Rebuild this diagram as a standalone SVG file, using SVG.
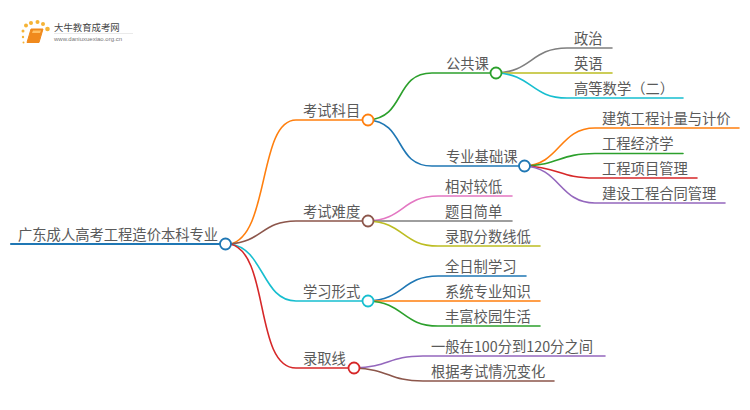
<svg xmlns="http://www.w3.org/2000/svg" width="750" height="410" viewBox="0 0 750 410">
<style>
text{font-family:"Noto Sans CJK SC","Liberation Sans",sans-serif;font-size:14.300px;fill:#5a5a5a}
.c{fill:none;stroke-width:1.6;stroke-linecap:round}
.n{fill:#fff;stroke-width:1.8}
.o{stroke:#ff7f0e}.g{stroke:#2ca02c}.b{stroke:#1f77b4}.r{stroke:#d62728}.p{stroke:#9467bd}.w{stroke:#8c564b}.k{stroke:#e377c2}.y{stroke:#7f7f7f}.l{stroke:#bcbd22}.t{stroke:#17becf}
</style>
<rect width="750" height="410" fill="#fff"/>
<g id="logo">
<g fill="#f5b335"><circle cx="26" cy="25.500" r="2"/><circle cx="23" cy="31" r="1.500"/><circle cx="31" cy="23" r="2"/><circle cx="37.500" cy="22" r="2"/><circle cx="43" cy="24" r="2"/><circle cx="47.500" cy="29" r="2.300"/><circle cx="23" cy="37" r="1.200"/><circle cx="23.500" cy="42.500" r="1"/></g>
<path d="M31 29H43L39 42.500H27Z" fill="#f08a1d" stroke="#f08a1d" stroke-linejoin="round"/><path d="M33 30.500H41L40 33H32Z" fill="#ffc266"/>
<path d="M54 33.500H133" stroke="#e4e4e4" stroke-width="0.800"/>
<text x="54" y="31" style="font-size:9.400px;fill:#444">大牛教育成考网</text>
<text x="54" y="41" style="font-size:6px;fill:#777;font-family:'Liberation Sans',sans-serif">www.daniuxuexiao.org.cn</text>
</g>
<g id="connectors">
<path class="c b" d="M11 244H225" style="stroke-width:2.200"/>
<path class="c o" d="M230 244C270 236 258 120 296 120H368"/>
<path class="c w" d="M230 244C262 242 262 221 296 221H368"/>
<path class="c t" d="M230 244C264 248 262 301 296 301H368"/>
<path class="c r" d="M230 244C270 252 254 368 296 368H354"/>
<path class="c g" d="M368 120C406 118 394 73 432 73H496"/>
<path class="c b" d="M368 120C406 122 394 166 432 166H524"/>
<path class="c k" d="M368 221C404 220 402 196 438 196H512"/>
<path class="c y" d="M368 221H512"/>
<path class="c l" d="M368 221C404 222 402 246 438 246H540"/>
<path class="c b" d="M368 301C404 300 402 276 438 276H526"/>
<path class="c o" d="M368 301H540"/>
<path class="c g" d="M368 301C404 302 402 326 438 326H540"/>
<path class="c p" d="M354 368C390 367 388 356 423 356H605"/>
<path class="c w" d="M354 368C390 369 388 381 423 381H554"/>
<path class="c y" d="M496 73C532 72 531 48 567 48H612"/>
<path class="c l" d="M496 73H612"/>
<path class="c t" d="M496 73C532 74 531 98 567 98H683"/>
<path class="c o" d="M524 166C560 165 559 128 595 128H739"/>
<path class="c g" d="M524 166C560 165 559 153.500 595 153.500H683"/>
<path class="c r" d="M524 166C560 167 559 178 595 178H697"/>
<path class="c p" d="M524 166C560 167 559 203 595 203H725"/>
</g>
<g id="root"><text x="18" y="240">广东成人高考工程造价本科专业</text><circle class="n b" cx="225.500" cy="244" r="5.500"/></g>
<g id="n1"><text x="303" y="116">考试科目</text><circle class="n o" cx="368" cy="120" r="5.500"/></g>
<g id="n2"><text x="303" y="217">考试难度</text><circle class="n w" cx="368" cy="221" r="5.500"/></g>
<g id="n3"><text x="303" y="297">学习形式</text><circle class="n t" cx="368" cy="301" r="5.500"/></g>
<g id="n4"><text x="303" y="364">录取线</text><circle class="n r" cx="354" cy="368" r="5.500"/></g>
<g id="n11"><text x="446" y="69">公共课</text><circle class="n g" cx="496" cy="73" r="5.500"/></g>
<g id="n12"><text x="446" y="162">专业基础课</text><circle class="n b" cx="524.500" cy="166" r="5.500"/></g>
<g id="l1"><text x="574" y="44">政治</text></g>
<g id="l2"><text x="574" y="69">英语</text></g>
<g id="l3"><text x="574 588.300 602.600 616.900 631.200 645.500 659.800" y="94">高等数学（二）</text></g>
<g id="l4"><text x="602" y="124">建筑工程计量与计价</text></g>
<g id="l5"><text x="602" y="149">工程经济学</text></g>
<g id="l6"><text x="602" y="174">工程项目管理</text></g>
<g id="l7"><text x="602" y="199">建设工程合同管理</text></g>
<g id="l8"><text x="445" y="192">相对较低</text></g>
<g id="l9"><text x="445" y="217">题目简单</text></g>
<g id="l10"><text x="445" y="242">录取分数线低</text></g>
<g id="l11"><text x="445" y="272">全日制学习</text></g>
<g id="l12"><text x="445" y="297">系统专业知识</text></g>
<g id="l13"><text x="445" y="322">丰富校园生活</text></g>
<g id="l14"><text x="431" y="352">一般在100分到120分之间</text></g>
<g id="l15"><text x="431" y="377">根据考试情况变化</text></g>
</svg>
